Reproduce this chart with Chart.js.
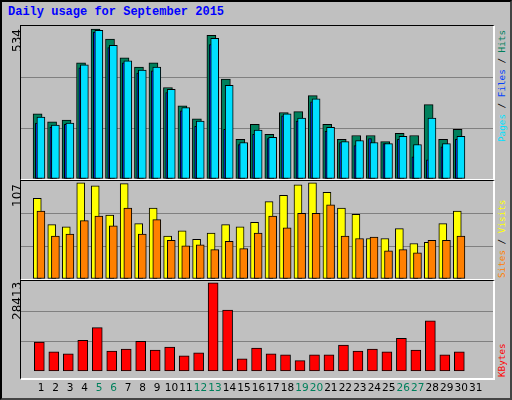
<!DOCTYPE html>
<html><head><meta charset="utf-8">
<script src="https://cdn.jsdelivr.net/npm/chart.js@4/dist/chart.umd.min.js"></script>
<style>
html,body{margin:0;padding:0;background:#fff}
#frame{position:absolute;left:0;top:0;width:508px;height:396px;background:#c0c0c0;border:2px solid #000;border-right-color:#444;border-bottom-color:#444}
.panel{position:absolute;left:18px;width:472px;border-top:1px solid #000;border-left:1px solid #000;border-right:2px solid #fff;border-bottom:2px solid #fff;background:#c0c0c0}
.lab{position:absolute;font:12px "DejaVu Sans";transform-origin:left top;transform:rotate(-90deg);white-space:nowrap}
.rlab{position:absolute;font:9.3px "DejaVu Sans Mono";transform-origin:left top;transform:rotate(-90deg);white-space:nowrap}
#title{position:absolute;left:6px;top:3px;font:bold 12px "Liberation Mono";color:#0000ff}
</style></head><body>
<div id="frame">
<div id="title">Daily usage for September 2015</div>
<div class="panel" style="top:23px;height:153px"><canvas id="c1"></canvas></div>
<div class="panel" style="top:178px;height:98px"><canvas id="c2"></canvas></div>
<div class="panel" style="top:278px;height:97px"></div>
<div style="position:absolute;left:19px;top:279px;width:472px;height:117px"><canvas id="c3"></canvas></div>
<div class="lab" style="left:8px;top:50px">534</div>
<div class="lab" style="left:8px;top:205px">107</div>
<div class="lab" style="left:8px;top:318px">28413</div>
<div class="rlab" style="left:494px;top:140px"><span style="color:#00e0ff">Pages</span><span style="color:#000"> / </span><span style="color:#0040ff">Files</span><span style="color:#000"> / </span><span style="color:#00805c">Hits</span></div>
<div class="rlab" style="left:494px;top:276px"><span style="color:#ff8000">Sites</span><span style="color:#000"> / </span><span style="color:#ffff00">Visits</span></div>
<div class="rlab" style="left:494px;top:375px"><span style="color:#ff0000">KBytes</span></div>
</div>
<script>
const days=[1,2,3,4,5,6,7,8,9,10,11,12,13,14,15,16,17,18,19,20,21,22,23,24,25,26,27,28,29,30];
const weekends=[5,6,12,13,19,20,26,27];
const hits=[232,204,210,414,534,498,432,399,414,326,261,214,512,356,141,195,159,237,240,297,195,141,155,155,133,163,155,265,141,177];
const pages=[221,192,199,407,530,476,421,388,399,319,254,206,501,334,130,174,148,232,217,286,184,133,137,130,126,152,123,217,126,152];
const files=[199,184,195,396,523,468,414,377,385,308,243,188,479,177,123,159,144,225,206,275,170,130,119,144,126,141,79,68,115,141];
const visits=[89.6,60.5,58,107,103.5,71,106,61.6,79,47.7,53.5,44,51,60.5,58,63,86,93,104.7,107,96.5,79,72,45,45,56,39.5,40.7,61.6,75.6];
const sites=[75.6,47.7,50,65,70,59,79,50,66,43,37,38,32.6,42,33.7,51,70,57,73,73,82.6,47.7,45,46.5,31.4,32.6,29,43,43,47.7];
const kbytes=[9367,6245,5620,9991,14050,6557,7181,9679,6869,7806,4996,5932,28413,19671,4059,7494,5620,5308,3434,5308,5308,8430,6557,7181,6245,10616,6869,16236,5308,6245];
const maxTop=545, maxMid=109, maxBot=29000;

Chart.defaults.animation=false;
Chart.defaults.plugins.legend.display=false;
Chart.defaults.plugins.tooltip.enabled=false;
Chart.defaults.maintainAspectRatio=false;
Chart.defaults.responsive=true;

function pts(vals,off){return days.map((d,i)=>({x:d+off,y:vals[i]}));}
function ds(vals,off,color,w){return {data:pts(vals,off),backgroundColor:color,borderColor:'#000',borderWidth:1,barThickness:w,grouped:false,borderSkipped:false};}
function yScale(max){return {min:0,max:max,display:true,border:{display:false},ticks:{display:false},
  afterBuildTicks:s=>{s.ticks=[{value:0},{value:max/3},{value:2*max/3},{value:max}];},
  grid:{color:c=>(c.tick.value>0&&c.tick.value<max-1)?'#808080':'rgba(0,0,0,0)',lineWidth:1,drawTicks:false},afterFit:s=>{s.width=0;}};}
function xScale(show){return {type:'linear',min:0.13,max:31.67,display:show,grid:{display:false},border:{display:false},
  afterBuildTicks:s=>{s.ticks=Array.from({length:31},(_,i)=>({value:i+1}));},
  ticks:{autoSkip:false,maxRotation:0,padding:3,font:{family:'DejaVu Sans',size:10.5},color:c=>weekends.includes(c.tick.value)?'#00805c':'#000'}};}

new Chart(document.getElementById('c1'),{type:'bar',data:{datasets:[
  ds(pages,-0.02,'#00e0ff',8), ds(files,-0.3,'#0040ff',3), ds(hits,-0.25,'#00805c',9)]},
  options:{layout:{padding:0},scales:{x:xScale(false),y:yScale(maxTop)}}});
new Chart(document.getElementById('c2'),{type:'bar',data:{datasets:[
  ds(sites,-0.02,'#ff8000',8), ds(visits,-0.27,'#ffff00',8)]},
  options:{layout:{padding:0},scales:{x:xScale(false),y:yScale(maxMid)}}});
new Chart(document.getElementById('c3'),{type:'bar',data:{datasets:[
  ds(kbytes,-0.13,'#ff0000',10)]},
  options:{layout:{padding:0},scales:{x:xScale(true),y:yScale(maxBot)}}});
</script></body></html>
